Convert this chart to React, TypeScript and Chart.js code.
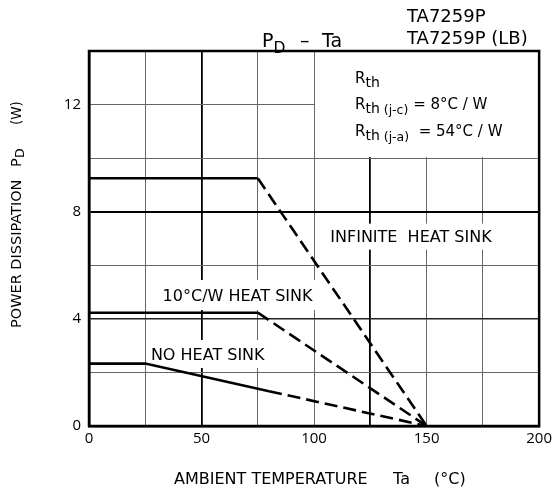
import React, { useEffect, useRef } from "react";
import { Chart, registerables } from "chart.js";

Chart.register(...registerables);

// ---- data ----
const infiniteX = [0, 75, 150];
const infiniteY = [9.25, 9.25, 0];
const infiniteSolidSegments = 1;

const sink10X = [0, 75, 150];
const sink10Y = [4.23, 4.23, 0];
const sink10SolidSegments = 1;

const noSinkX = [0, 25, 80, 150];
const noSinkY = [2.33, 2.33, 1.3, 0];
const noSinkSolidSegments = 2;

const xTickLabels = [0, 50, 100, 150, 200];
const yTickLabels = [0, 4, 8, 12];

const curveLabels = ["INFINITE  HEAT SINK", "10°C/W HEAT SINK", "NO HEAT SINK"];
const titleText = "P_D – Ta";
const partNumbers = ["TA7259P", "TA7259P (LB)"];
const xTitle = ["AMBIENT TEMPERATURE", "Ta", "(°C)"];
const yTitle = ["POWER DISSIPATION", "P", "D", "(W)"];

const FONT = "'DejaVu Sans', sans-serif";
const TICKFONT = "'Open Sans', 'DejaVu Sans', sans-serif";

function pts(xs: number[], ys: number[]) {
  return xs.map((x, i) => ({ x, y: ys[i] }));
}

function lineDataset(xs: number[], ys: number[], solid: number) {
  return {
    data: pts(xs, ys),
    borderColor: "#000",
    borderWidth: 2.6,
    pointRadius: 0,
    fill: false,
    tension: 0,
    showLine: true,
    segment: {
      borderDash: (ctx: any) => (ctx.p0DataIndex >= solid ? [13, 6] : undefined),
    },
  };
}

type Part = { t: string; size: number; dy?: number };
function drawParts(ctx: CanvasRenderingContext2D, x: number, y: number, parts: Part[]) {
  let cx = x;
  for (const p of parts) {
    ctx.font = `${p.size}px ${FONT}`;
    ctx.fillText(p.t, cx, y + (p.dy || 0));
    cx += ctx.measureText(p.t).width;
  }
  return cx;
}

const LABEL_SIZE = 16;
// label anchor (data coords of left edge / vertical centre of capitals)
const labelAnchors = [
  { x: 107.2, y: 7.07 },
  { x: 32.7, y: 4.89 },
  { x: 27.5, y: 2.69 },
];

const decorPlugin = {
  id: "decor",
  beforeDatasetsDraw(chart: any) {
    const ctx = chart.ctx as CanvasRenderingContext2D;
    const xs = chart.scales.x;
    const ys = chart.scales.y;
    const a = chart.chartArea;
    ctx.save();
    ctx.fillStyle = "#fff";
    // blank box for Rth legend
    const bx = xs.getPixelForValue(100) + 1;
    ctx.fillRect(bx, a.top, a.right - bx, ys.getPixelForValue(10) - a.top - 1);
    // label backgrounds
    ctx.font = `${LABEL_SIZE}px ${FONT}`;
    const heights = [26, 30, 28];
    curveLabels.forEach((text, i) => {
      const px = xs.getPixelForValue(labelAnchors[i].x);
      const py = ys.getPixelForValue(labelAnchors[i].y);
      const w = ctx.measureText(text).width;
      ctx.fillRect(px - 4, py - heights[i] / 2, w + 8, heights[i]);
    });
    ctx.restore();
  },
  afterDraw(chart: any) {
    const ctx = chart.ctx as CanvasRenderingContext2D;
    const xs = chart.scales.x;
    const ys = chart.scales.y;
    const a = chart.chartArea;
    ctx.save();
    // frame
    ctx.strokeStyle = "#000";
    ctx.lineWidth = 2.5;
    ctx.strokeRect(a.left, a.top, a.right - a.left, a.bottom - a.top);

    ctx.fillStyle = "#000";
    ctx.textBaseline = "alphabetic";
    ctx.textAlign = "left";
    // curve labels
    ctx.font = `${LABEL_SIZE}px ${FONT}`;
    curveLabels.forEach((text, i) => {
      const px = xs.getPixelForValue(labelAnchors[i].x);
      const py = ys.getPixelForValue(labelAnchors[i].y);
      ctx.fillText(text, px, py + 0.365 * LABEL_SIZE);
    });

    // Rth legend
    const lx = 355;
    drawParts(ctx, lx, 83, [
      { t: "R", size: 15 },
      { t: "th", size: 14, dy: 4 },
    ]);
    drawParts(ctx, lx, 109, [
      { t: "R", size: 15 },
      { t: "th", size: 14, dy: 4 },
      { t: " (j-c)", size: 12.5, dy: 5 },
      { t: " = 8°C / W", size: 15 },
    ]);
    drawParts(ctx, lx, 136, [
      { t: "R", size: 15 },
      { t: "th", size: 14, dy: 4 },
      { t: " (j-a)", size: 12.5, dy: 5 },
      { t: "  = 54°C / W", size: 15 },
    ]);

    // title
    const tparts = titleText.split(/[_ ]/);
    drawParts(ctx, 262, 47, [
      { t: tparts[0], size: 19 },
      { t: tparts[1], size: 15.5, dy: 6 },
    ]);
    ctx.font = `19px ${FONT}`;
    ctx.fillText(tparts[2], 300, 47);
    ctx.fillText(tparts[3], 322, 47);
    ctx.font = `18px ${FONT}`;
    ctx.fillText(partNumbers[0], 407, 22);
    ctx.fillText(partNumbers[1], 407, 44);

    // x title
    ctx.font = `16px ${FONT}`;
    ctx.fillText(xTitle[0], 174, 484);
    ctx.fillText(xTitle[1], 393, 484);
    ctx.fillText(xTitle[2], 434, 484);

    // y title (rotated)
    ctx.translate(21, 328);
    ctx.rotate(-Math.PI / 2);
    ctx.font = `14.5px ${FONT}`;
    ctx.fillText(yTitle[0], 0, 0);
    ctx.fillText(yTitle[1], 161, 0);
    ctx.font = `12.5px ${FONT}`;
    ctx.fillText(yTitle[2], 170, 3);
    ctx.font = `13.5px ${FONT}`;
    ctx.fillText(yTitle[3], 203, 0);
    ctx.restore();
  },
};

export default function App() {
  const ref = useRef<HTMLCanvasElement | null>(null);
  useEffect(() => {
    if (!ref.current) return;
    const chart = new Chart(ref.current, {
      type: "scatter",
      data: {
        datasets: [
          lineDataset(infiniteX, infiniteY, infiniteSolidSegments),
          lineDataset(sink10X, sink10Y, sink10SolidSegments),
          lineDataset(noSinkX, noSinkY, noSinkSolidSegments),
        ] as any,
      },
      options: {
        animation: false,
        responsive: false,
        maintainAspectRatio: false,
        devicePixelRatio: 1,
        layout: { padding: { left: 0, right: 15, top: 51, bottom: 37 } },
        plugins: { legend: { display: false }, tooltip: { enabled: false }, title: { display: false } },
        scales: {
          x: {
            type: "linear",
            min: 0,
            max: 200,
            afterFit: (s: any) => {
              s.height = 28;
            },
            ticks: {
              stepSize: 25,
              autoSkip: false,
              maxRotation: 0,
              padding: 4,
              color: "#000",
              font: { family: TICKFONT, size: 15 },
              callback: (v: any) => (xTickLabels.includes(Number(v)) ? String(v) : ""),
            },
            grid: {
              drawTicks: false,
              color: (c: any) => ([50, 125].includes(c.tick?.value) ? "#000" : "#666"),
              lineWidth: (c: any) => ([50, 125].includes(c.tick?.value) ? 1.8 : 1),
            },
            border: { display: true, color: "#000", width: 2.5 },
          },
          y: {
            type: "linear",
            min: 0,
            max: 14,
            afterFit: (s: any) => {
              s.width = 89;
            },
            ticks: {
              stepSize: 2,
              autoSkip: false,
              padding: 8,
              color: "#000",
              font: { family: TICKFONT, size: 15 },
              callback: (v: any) => (yTickLabels.includes(Number(v)) ? String(v) : ""),
            },
            grid: {
              drawTicks: false,
              color: (c: any) => (c.tick?.value === 8 ? "#000" : c.tick?.value === 4 ? "#222" : "#666"),
              lineWidth: (c: any) => (c.tick?.value === 8 ? 2 : c.tick?.value === 4 ? 1.5 : 1),
            },
            border: { display: true, color: "#000", width: 2.5 },
          },
        },
      },
      plugins: [decorPlugin],
    });
    return () => chart.destroy();
  }, []);
  return (
    <div style={{ position: "absolute", left: 0, top: 0, width: 556, height: 491, background: "#fff" }}>
      <canvas ref={ref} width={556} height={491} style={{ width: 556, height: 491 }} />
    </div>
  );
}
